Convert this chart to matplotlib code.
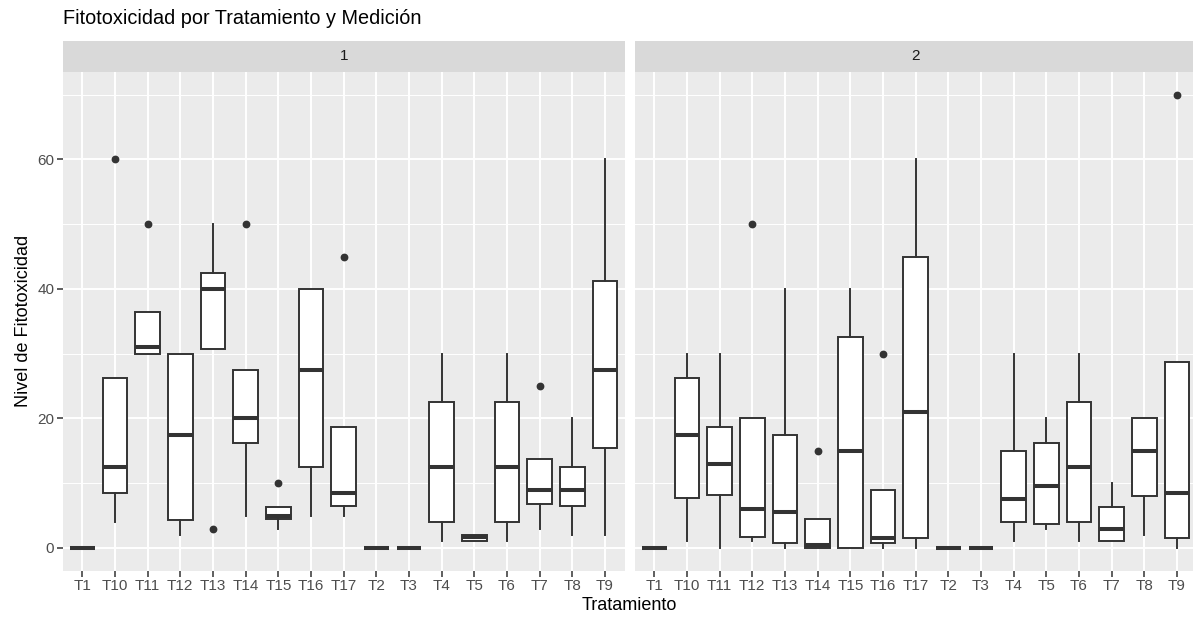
import numpy as np
import matplotlib
matplotlib.use("Agg")
from matplotlib import pyplot as plt

plt.rcParams['font.family'] = ['Liberation Sans', 'DejaVu Sans']

# treatment order as it appears on the x axis (alphabetical, like R)
tratamientos = ["T1", "T10", "T11", "T12", "T13", "T14", "T15", "T16", "T17",
                "T2", "T3", "T4", "T5", "T6", "T7", "T8", "T9"]
mediciones = ["1", "2"]

# box statistics: whisker low, Q1, median, Q3, whisker high
m1_lo  = [0, 4,     30,   2,    30.75, 5,     3,    5,    5,     0, 0, 1,    1,    1,    3,     2,   2]
m1_q1  = [0, 8.5,   30,   4.25, 30.75, 16.25, 4.5,  12.5, 6.5,   0, 0, 4,    1,    4,    6.75,  6.5, 15.5]
m1_med = [0, 12.5,  31,   17.5, 40,    20,    5,    27.5, 8.5,   0, 0, 12.5, 1.75, 12.5, 9,     9,   27.5]
m1_q3  = [0, 26.25, 36.5, 30,   42.5,  27.5,  6.25, 40,   18.75, 0, 0, 22.5, 2,    22.5, 13.75, 12.5, 41.25]
m1_hi  = [0, 26.25, 36.5, 30,   50,    27.5,  6.25, 40,   18.75, 0, 0, 30,   2,    30,   13.75, 20,  60]
m1_out = [[], [60], [50], [], [3], [50], [10], [], [45], [], [], [], [], [], [25], [], []]

m2_lo  = [0, 1,     0,     1,    0,    0,   0,    0,   0,   0, 0, 1,   3,     1,    1,    2,  0]
m2_q1  = [0, 7.75,  8.25,  1.75, 0.75, 0,   0,    0.75, 1.5, 0, 0, 4,   3.75,  4,    1,    8,  1.5]
m2_med = [0, 17.5,  13,    6,    5.5,  0.5, 15,   1.5, 21,  0, 0, 7.5, 9.5,   12.5, 3,    15, 8.5]
m2_q3  = [0, 26.25, 18.75, 20,   17.5, 4.5, 32.5, 9,   45,  0, 0, 15,  16.25, 22.5, 6.25, 20, 28.75]
m2_hi  = [0, 30,    30,    20,   40,   4.5, 40,   9,   60,  0, 0, 30,  20,    30,   10,   20, 28.75]
m2_out = [[], [], [], [50], [], [15], [], [30], [], [], [], [], [], [], [], [], [70]]

datos = [(m1_lo, m1_q1, m1_med, m1_q3, m1_hi, m1_out),
         (m2_lo, m2_q1, m2_med, m2_q3, m2_hi, m2_out)]

W, H = 1193, 618
fig = plt.figure(figsize=(W / 100, H / 100), dpi=100)

gris = '#333333'
paneles = [(62.7, 624.6), (634.7, 1196.6)]
y_top, y_bot = 72, 570.6
strip_top = 40.7

pos = np.arange(1, len(tratamientos) + 1)
for k, (x0, x1) in enumerate(paneles):
    ax = fig.add_axes([x0 / W, (H - y_bot) / H, (x1 - x0) / W, (y_bot - y_top) / H])
    lo, q1, med, q3, hi, out = datos[k]
    stats = []
    for i in range(len(tratamientos)):
        stats.append(dict(whislo=lo[i], q1=q1[i], med=med[i], q3=q3[i],
                          whishi=hi[i], fliers=out[i], label=tratamientos[i]))
    ax.bxp(stats, positions=pos, widths=0.76, patch_artist=True, showcaps=False,
           boxprops=dict(facecolor='white', edgecolor=gris, linewidth=1.4),
           medianprops=dict(color=gris, linewidth=2.9, solid_capstyle='butt'),
           whiskerprops=dict(color=gris, linewidth=1.4),
           flierprops=dict(marker='o', markerfacecolor=gris, markeredgecolor=gris,
                           markersize=4.6))
    ax.set_facecolor('#EBEBEB')
    ax.set_xlim(0.4, 17.6)
    ax.set_ylim(-3.5, 73.5)
    ax.set_yticks([0, 20, 40, 60])
    ax.set_yticks([10, 30, 50, 70], minor=True)
    ax.set_xticks(pos)
    ax.set_xticklabels(tratamientos)
    ax.grid(True, which='major', color='white', linewidth=1.4)
    ax.grid(True, which='minor', axis='y', color='white', linewidth=0.7)
    ax.set_axisbelow(True)
    for s in ax.spines.values():
        s.set_visible(False)
    ax.tick_params(which='major', length=4, width=1.1, color=gris,
                   labelcolor='#4D4D4D', labelsize=11, pad=2)
    ax.tick_params(which='minor', length=0)
    if k == 1:
        ax.tick_params(axis='y', left=False, labelleft=False)
    else:
        ax.set_ylabel('Nivel de Fitotoxicidad', fontsize=13, color='black', labelpad=4)

    # facet strip
    sx = fig.add_axes([x0 / W, (H - y_top) / H, (x1 - x0) / W, (y_top - strip_top) / H])
    sx.set_facecolor('#D9D9D9')
    sx.set_xticks([])
    sx.set_yticks([])
    for s in sx.spines.values():
        s.set_visible(False)
    sx.text(0.5, 0.5, mediciones[k], ha='center', va='center', fontsize=11,
            color='#1A1A1A', transform=sx.transAxes)

fig.text((62.7 + 1196.6) / 2 / W, 1 - 606 / H, 'Tratamiento', ha='center', va='center',
         fontsize=13, color='black')
fig.text(63 / W, 1 - 19 / H, 'Fitotoxicidad por Tratamiento y Medición', ha='left',
         va='center', fontsize=14.3, color='black')

fig.savefig('out.png', dpi=100)
